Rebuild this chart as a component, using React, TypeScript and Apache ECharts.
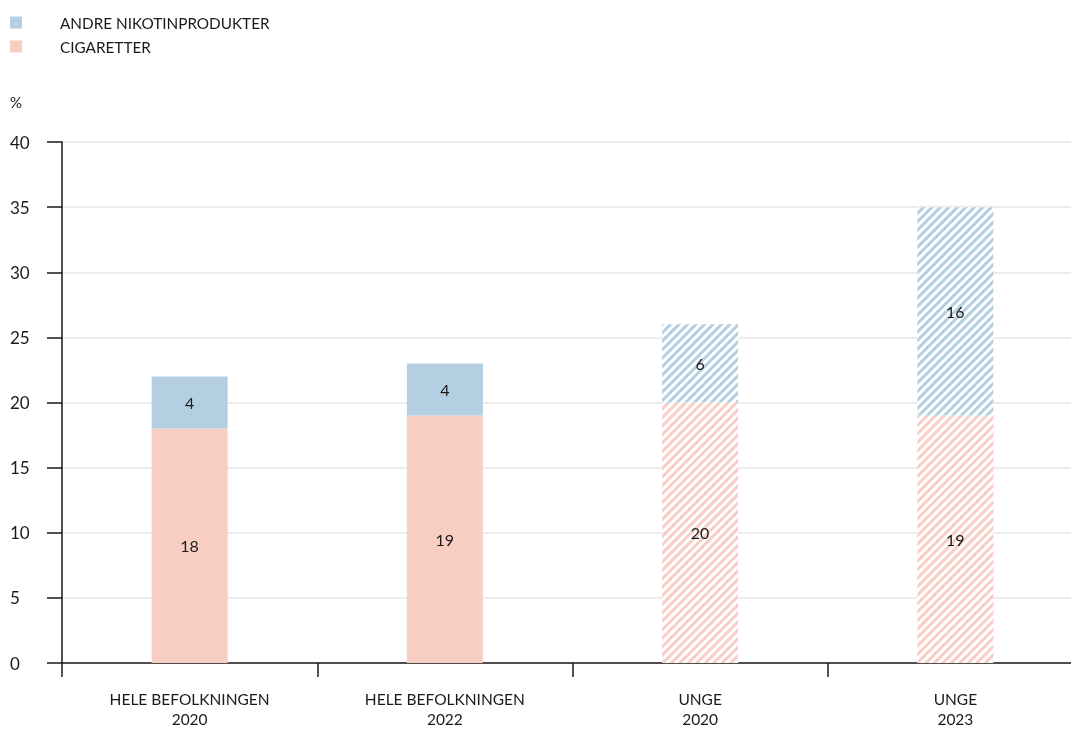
import React, { useEffect, useRef } from "react";
import * as echarts from "echarts";

const categories = ["HELE BEFOLKNINGEN\n2020", "HELE BEFOLKNINGEN\n2022", "UNGE\n2020", "UNGE\n2023"];
const cigaretter = [18, 19, 20, 19];
const andre = [4, 4, 6, 16];
const hatched = [false, false, true, true];
const yTicks = [0, 5, 10, 15, 20, 25, 30, 35, 40];

const BLUE = "#b3cfe1";
const PINK = "#f8cec3";
const FONT = "Lato, 'Open Sans', sans-serif";
const INK = "#1a1a1a";

function items(values: number[], color: string) {
  return values.map((v, i) =>
    hatched[i]
      ? {
          value: v,
          itemStyle: {
            color: "#ffffff",
            decal: {
              symbol: "rect",
              symbolSize: 1,
              color,
              dashArrayX: [1, 0],
              dashArrayY: [3, 3],
              rotation: -Math.PI / 4,
            },
          },
        }
      : { value: v }
  );
}

export default function App() {
  const ref = useRef<HTMLDivElement>(null);
  useEffect(() => {
    const chart = echarts.init(ref.current!, undefined, { renderer: "svg" });
    chart.setOption({
      animation: false,
      aria: { enabled: false },
      textStyle: { fontFamily: FONT, color: INK },
      legend: {
        orient: "vertical",
        left: 10,
        top: 15,
        padding: 0,
        itemWidth: 12,
        itemHeight: 12,
        itemGap: 9,
        icon: "rect",
        data: ["ANDRE NIKOTINPRODUKTER", "CIGARETTER"],
        textStyle: { fontFamily: FONT, fontSize: 15.3, color: INK, padding: [0, 0, 0, 33] },
      },
      graphic: [
        { type: "text", left: 10, top: 94, style: { text: "%", fontFamily: FONT, fontSize: 15, fill: INK } },
      ],
      grid: { left: 62, right: 0, top: 142, bottom: 66 },
      xAxis: {
        type: "category",
        data: categories,
        axisLine: { lineStyle: { color: INK, width: 1.5 } },
        axisTick: { show: true, length: 14, lineStyle: { color: INK, width: 1.5 } },
        axisLabel: { margin: 26, fontFamily: FONT, fontSize: 15.5, color: INK, lineHeight: 20 },
      },
      yAxis: {
        type: "value",
        min: yTicks[0],
        max: yTicks[yTicks.length - 1],
        interval: 5,
        axisLine: { show: true, lineStyle: { color: INK, width: 1.5 } },
        axisTick: { show: true, length: 15, lineStyle: { color: INK, width: 1.5 } },
        axisLabel: { align: "left", margin: 52, fontFamily: FONT, fontSize: 17, color: INK },
        splitLine: { show: true, lineStyle: { color: "#e6e6e6", width: 1.5 } },
      },
      series: [
        {
          name: "CIGARETTER",
          type: "bar",
          stack: "total",
          barWidth: 76,
          itemStyle: { color: PINK },
          label: { show: true, position: "inside", color: INK, fontFamily: FONT, fontSize: 16 },
          data: items(cigaretter, PINK),
        },
        {
          name: "ANDRE NIKOTINPRODUKTER",
          type: "bar",
          stack: "total",
          barWidth: 76,
          itemStyle: { color: BLUE },
          label: { show: true, position: "inside", color: INK, fontFamily: FONT, fontSize: 16 },
          data: items(andre, BLUE),
        },
      ],
    });
    return () => chart.dispose();
  }, []);
  return (
    <div style={{ position: "fixed", left: 0, top: 0, width: 1071, height: 729, overflow: "hidden" }}>
      <div ref={ref} style={{ width: 1083, height: 729 }} />
    </div>
  );
}
